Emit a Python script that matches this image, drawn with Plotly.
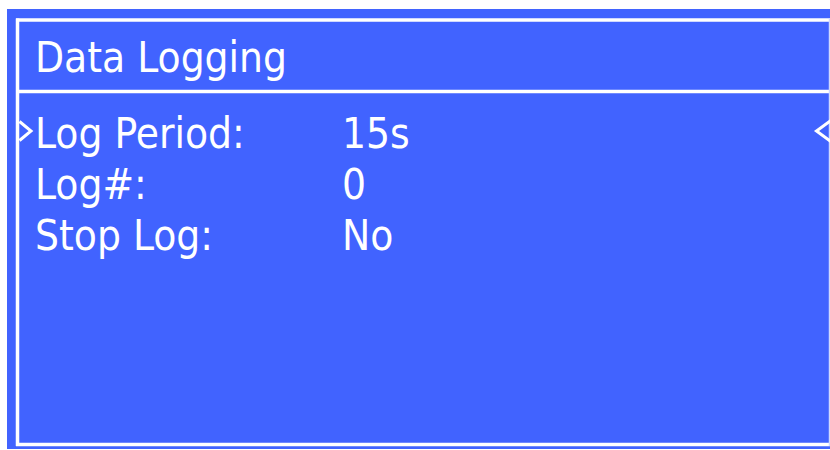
import plotly.graph_objects as go

title = "Data Logging"
labels = ["Log Period:", "Log#:", "Stop Log:"]
values = ["15s", "0", "No"]

BLUE = "#4163FF"
W, H = 830, 450
FONT = "DejaVu Sans Condensed, DejaVu Sans, sans-serif"
FS = 42
LW = 3.5

fig = go.Figure()

shapes = [
    dict(type="rect", x0=7, x1=830, y0=9, y1=449, fillcolor=BLUE, line_width=0, layer="below"),
    # frame
    dict(type="line", x0=17.5, x1=17.5, y0=18.5, y1=446, line=dict(color="white", width=LW)),
    dict(type="line", x0=16, x1=830, y0=20, y1=20, line=dict(color="white", width=LW)),
    dict(type="line", x0=16, x1=830, y0=444.5, y1=444.5, line=dict(color="white", width=LW)),
    dict(type="line", x0=16, x1=830, y0=91.5, y1=91.5, line=dict(color="white", width=LW)),
    dict(type="line", x0=829.5, x1=829.5, y0=19, y1=446, line=dict(color="#D0D8FF", width=1.5)),
    # selection chevrons
    dict(type="path", path="M 19.5 121.5 L 31 131 L 19.5 140.5", line=dict(color="white", width=3)),
    dict(type="path", path="M 831 120.5 L 816.5 131 L 831 141.5", line=dict(color="white", width=3)),
]

annotations = [dict(x=33, y=57, text=title, showarrow=False, xanchor="left", yanchor="middle",
                    font=dict(family=FONT, size=FS, color="white"))]
row_y = [133, 184, 235]
for lab, val, y in zip(labels, values, row_y):
    annotations.append(dict(x=33, y=y, text=lab, showarrow=False, xanchor="left", yanchor="middle",
                            font=dict(family=FONT, size=FS, color="white")))
    annotations.append(dict(x=340, y=y, text=val, showarrow=False, xanchor="left", yanchor="middle",
                            font=dict(family=FONT, size=FS, color="white")))

fig.update_layout(
    width=W, height=H,
    margin=dict(l=0, r=0, t=0, b=0),
    paper_bgcolor="white", plot_bgcolor="white",
    xaxis=dict(range=[0, W], visible=False, fixedrange=True),
    yaxis=dict(range=[H, 0], visible=False, fixedrange=True),
    shapes=shapes, annotations=annotations, showlegend=False,
)

fig.write_html("out.html", config={"displayModeBar": False},
               post_script="document.body.style.margin='0';document.body.style.overflow='hidden';")
